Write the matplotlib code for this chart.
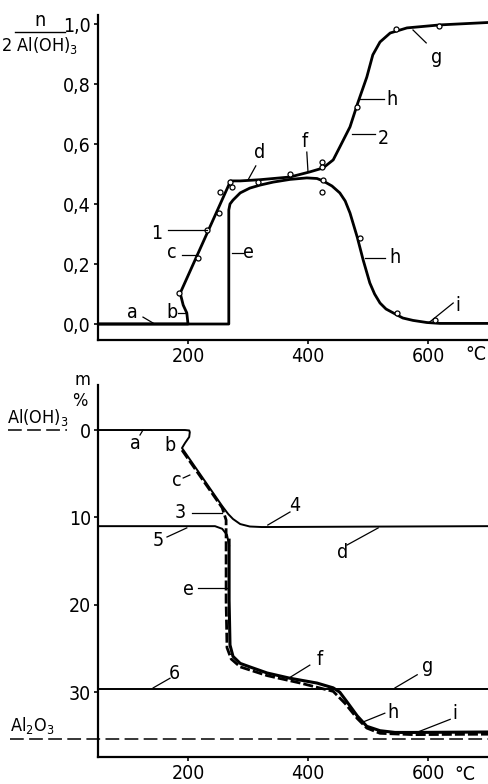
import matplotlib
matplotlib.use("Agg")
import matplotlib.pyplot as plt
import matplotlib.transforms as mtransforms

plt.rcParams["font.family"] = ["Liberation Sans Narrow", "DejaVu Sans"]
plt.rcParams["font.stretch"] = "condensed"
plt.rcParams["mathtext.fontset"] = "custom"
plt.rcParams["mathtext.rm"] = "Liberation Sans Narrow"
plt.rcParams["mathtext.it"] = "Liberation Sans Narrow"

# ---- upper panel: n / 2 Al(OH)3 vs temperature ----
t_rise = [50, 200, 198, 192, 187, 271, 287, 320, 370, 403, 425, 442, 453, 470,
          483, 498, 508, 520, 537, 565, 620, 700]
n_rise = [0.0, 0.0, 0.037, 0.063, 0.103, 0.477, 0.477, 0.481, 0.49, 0.507, 0.52,
          0.547, 0.59, 0.657, 0.737, 0.823, 0.897, 0.94, 0.97, 0.987, 0.997, 1.005]

t_peak = [50, 268, 268, 270, 275, 287, 303, 320, 342, 370, 398, 415, 425, 440,
          453, 462, 470, 476, 482, 492, 503, 511, 520, 530, 542, 558, 575, 598,
          620, 700]
n_peak = [0.0, 0.0, 0.38, 0.40, 0.413, 0.437, 0.453, 0.463, 0.473, 0.482, 0.487,
          0.485, 0.477, 0.46, 0.437, 0.41, 0.37, 0.33, 0.29, 0.213, 0.137, 0.10,
          0.07, 0.05, 0.037, 0.02, 0.012, 0.005, 0.002, 0.002]

t_pts = [185, 217, 232, 252, 253, 273, 270, 317, 370, 423, 423, 425, 423, 482,
         547, 618, 487, 548, 612]
n_pts = [0.103, 0.22, 0.313, 0.37, 0.44, 0.457, 0.473, 0.473, 0.50, 0.54, 0.525,
         0.48, 0.44, 0.723, 0.983, 0.993, 0.287, 0.037, 0.013]

n_ticks = [0.0, 0.2, 0.4, 0.6, 0.8, 1.0]
n_ticklabels = ["0,0", "0,2", "0,4", "0,6", "0,8", "1,0"]
t_ticks = [200, 400, 600]

# ---- lower panel: mass loss m % vs temperature ----
t_m4 = [50, 195, 202, 203, 202, 195, 190, 257, 267, 275, 287, 303, 323, 700]
m_m4 = [0.0, 0.0, 0.05, 0.25, 0.8, 1.49, 2.06, 8.7, 9.61, 10.18, 10.76, 11.04,
        11.1, 11.0]

t_m5 = [50, 245, 257, 265, 268.5]
m_m5 = [11.0, 11.0, 11.3, 12.0, 13.2]

t_solid = [268.5, 268.5, 270, 275, 287, 303, 332, 370, 415, 442, 453, 465, 482,
           498, 520, 545, 575, 700]
m_solid = [12.6, 19.5, 24.6, 25.9, 26.7, 27.1, 27.8, 28.4, 28.95, 29.5, 30.0,
           31.1, 32.7, 33.9, 34.4, 34.6, 34.6, 34.55]

t_dash = [190, 257, 263.5, 263.5, 265, 272, 287, 332, 387, 442, 462, 482, 498,
          520, 575, 700]
m_dash = [2.3, 8.9, 10.3, 19.5, 24.9, 26.2, 27.1, 28.1, 28.95, 29.9, 31.3, 33.0,
          34.1, 34.7, 34.85, 34.8]

t_m6 = [50, 700]
m_m6 = [29.6, 29.6]

m_al2o3 = 35.35
m_ticks = [0, 10, 20, 30]

W, H = 488, 784
fig = plt.figure(figsize=(W / 100, H / 100), dpi=100)

ax1 = fig.add_axes([98 / W, 1 - 340 / H, 390 / W, 325 / H])
ax2 = fig.add_axes([98 / W, 1 - 757 / H, 390 / W, 372 / H])

FS = 14
LEAD = 0.9

for ax in (ax1, ax2):
    for s in ("top", "right"):
        ax.spines[s].set_visible(False)
    for s in ("left", "bottom"):
        ax.spines[s].set_linewidth(1.6)
    ax.tick_params(direction="out", length=3, width=1.2, pad=2, labelsize=FS)
    ax.set_xlim(50, 700)
    ax.set_xticks(t_ticks)

# upper
ax1.set_ylim(-0.0533, 1.03)
ax1.set_yticks(n_ticks)
ax1.set_yticklabels(n_ticklabels)
ax1.plot(t_rise, n_rise, color="black", lw=2.0, solid_joinstyle="round")
ax1.plot(t_peak, n_peak, color="black", lw=2.0, solid_joinstyle="round")
ax1.plot(t_pts, n_pts, "o", ms=3.6, mfc="white", mec="black", mew=0.9)

top_labels = [
    ("a", (107, 0.037), (125, 0.023), (142, 0.003)),
    ("b", (173, 0.040), (183, 0.037), (196, 0.037)),
    ("c", (173, 0.237), (190, 0.23), (215, 0.23)),
    ("1", (148, 0.303), (167, 0.313), (232, 0.313)),
    ("e", (300, 0.237), (273, 0.237), (292, 0.237)),
    ("d", (320, 0.573), (313, 0.527), (300, 0.48)),
    ("f", (395, 0.607), (398, 0.573), (400, 0.507)),
    ("2", (525, 0.62), (473, 0.633), (512, 0.633)),
    ("h", (540, 0.747), (487, 0.75), (527, 0.75)),
    ("g", (615, 0.89), (597, 0.937), (575, 0.98)),
    ("h", (545, 0.223), (495, 0.22), (528, 0.22)),
    ("i", (650, 0.063), (603, 0.007), (642, 0.07)),
]
for txt, (tx, ty), (x0, y0), (x1, y1) in top_labels:
    ax1.plot([x0, x1], [y0, y1], color="black", lw=LEAD)
    ax1.text(tx, ty, txt, fontsize=FS, ha="center", va="center")

tr1 = mtransforms.blended_transform_factory(ax1.transData, ax1.transAxes)
ax1.text(680, -0.046, "°C", transform=tr1, fontsize=FS, ha="center", va="center")

# lower
ax2.set_ylim(37.41, -5.15)
ax2.set_yticks(m_ticks)
ax2.plot(t_m4, m_m4, color="black", lw=1.4, solid_joinstyle="round")
ax2.plot(t_m5, m_m5, color="black", lw=1.4, solid_joinstyle="round")
ax2.plot(t_m6, m_m6, color="black", lw=1.4)
ax2.plot(t_solid, m_solid, color="black", lw=2.2, solid_joinstyle="round")
ax2.plot(t_dash, m_dash, color="black", lw=2.0, linestyle=(0, (3.6, 1.1)))

ax2.plot([-100, -2], [0, 0], color="black", lw=1.1, linestyle=(0, (9, 3.5)),
         clip_on=False)
ax2.plot([-97, 700], [m_al2o3, m_al2o3], color="black", lw=1.1,
         linestyle=(0, (9, 3.5)), clip_on=False)

bottom_labels = [
    ("a", (112, 1.49), (120, 0.57), (125, 0.0)),
    ("b", (170, 1.72), None, None),
    ("c", (182, 5.72), (192, 5.49), (203, 5.15)),
    ("3", (187, 9.38), (207, 9.5), (257, 9.5)),
    ("4", (378, 8.58), (370, 9.38), (333, 10.87)),
    ("5", (150, 12.59), (165, 12.24), (198, 11.2)),
    ("d", (457, 13.96), (465, 13.16), (517, 11.2)),
    ("e", (200, 18.3), (217, 18.08), (265, 18.08)),
    ("6", (178, 27.8), (142, 29.5), (170, 28.4)),
    ("f", (420, 26.3), (403, 26.9), (370, 28.3)),
    ("g", (600, 27.1), (545, 29.5), (582, 28.0)),
    ("h", (542, 32.3), (492, 33.4), (528, 32.4)),
    ("i", (645, 32.4), (583, 34.55), (637, 33.1)),
]
for txt, (tx, ty), p0, p1 in bottom_labels:
    if p0 is not None:
        ax2.plot([p0[0], p1[0]], [p0[1], p1[1]], color="black", lw=LEAD)
    ax2.text(tx, ty, txt, fontsize=FS, ha="center", va="center")

tr2 = mtransforms.blended_transform_factory(ax2.transData, ax2.transAxes)
ax2.text(662, -0.047, "°C", transform=tr2, fontsize=FS, ha="center", va="center")

# axis titles placed like the original
fig.text(40 / W, 1 - 20 / H, "n", fontsize=FS, ha="center", va="center")
fig.add_artist(plt.Line2D([15 / W, 65 / W], [1 - 32 / H, 1 - 32 / H],
                          color="black", lw=1.0))
fig.text(40 / W, 1 - 45 / H, r"2 Al(OH)$_3$", fontsize=13, ha="center",
         va="center")
fig.text(82 / W, 1 - 380 / H, "m", fontsize=13, ha="center", va="center")
fig.text(80 / W, 1 - 401 / H, "%", fontsize=13, ha="center", va="center")
fig.text(38 / W, 1 - 418 / H, r"Al(OH)$_3$", fontsize=13, ha="center",
         va="center")
fig.text(32 / W, 1 - 725 / H, r"Al$_2$O$_3$", fontsize=13, ha="center",
         va="center")

fig.savefig("out.png", dpi=100)
